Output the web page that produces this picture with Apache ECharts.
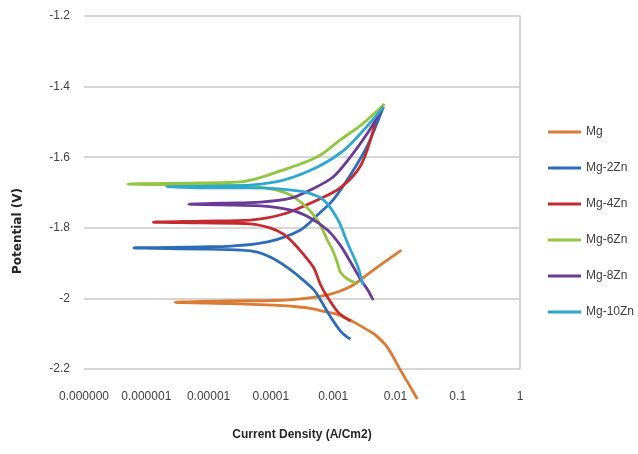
<!DOCTYPE html>
<html>
<head>
<meta charset="utf-8">
<script src="https://cdn.jsdelivr.net/npm/echarts@6/dist/echarts.min.js"></script>
<style>
html,body{margin:0;padding:0;background:#fff;}
#chart{width:638px;height:454px;}
</style>
</head>
<body>
<div id="chart"></div>
<script>
// ---- data: [current density (A/cm2), potential (V)] ----
const seriesNames = ["Mg", "Mg-2Zn", "Mg-4Zn", "Mg-6Zn", "Mg-8Zn", "Mg-10Zn"];
const xTickLabels = ["0.000000", "0.000001", "0.00001", "0.0001", "0.001", "0.01", "0.1", "1"];
const yTickLabels = [-2.2, -2, -1.8, -1.6, -1.4, -1.2];

const mg = [[2.25e-2,-2.285],[1.6e-2,-2.240],[1.2e-2,-2.203],[7.4e-3,-2.138],[4.8e-3,-2.104],[3.6e-3,-2.090],[2.3e-3,-2.070],[1.7e-3,-2.058],[1.1e-3,-2.044],[8.1e-4,-2.039],[3.9e-4,-2.027],[2.1e-4,-2.022],[1.1e-4,-2.019],[2.3e-5,-2.015],[2.9e-6,-2.011],[2.3e-5,-2.007],[1.1e-4,-2.006],[3.9e-4,-1.999],[8.1e-4,-1.990],[1.3e-3,-1.979],[2.1e-3,-1.962],[4.4e-3,-1.920],[1.25e-2,-1.863]];
const mg2Zn = [[1.9e-3,-2.115],[1.6e-3,-2.107],[1.3e-3,-2.092],[9.1e-4,-2.053],[6.3e-4,-2.005],[4.9e-4,-1.976],[3.0e-4,-1.942],[2.1e-4,-1.920],[1.2e-4,-1.891],[6.1e-5,-1.869],[3.3e-5,-1.863],[7.5e-6,-1.860],[6.3e-7,-1.857],[7.5e-6,-1.854],[2.3e-5,-1.852],[8.9e-5,-1.840],[3.0e-4,-1.806],[5.6e-4,-1.764],[1.0e-3,-1.721],[1.9e-3,-1.650],[3.6e-3,-1.565],[6.4e-3,-1.458]];
const mg4Zn = [[1.9e-3,-2.064],[1.6e-3,-2.056],[1.2e-3,-2.039],[8.1e-4,-1.996],[6.3e-4,-1.962],[4.9e-4,-1.914],[3.4e-4,-1.877],[2.3e-4,-1.843],[1.6e-4,-1.818],[9.9e-5,-1.801],[4.7e-5,-1.789],[7.5e-6,-1.786],[1.3e-6,-1.784],[7.5e-6,-1.781],[4.7e-5,-1.778],[1.6e-4,-1.761],[5.6e-4,-1.721],[1.3e-3,-1.687],[2.8e-3,-1.622],[4.8e-3,-1.500]];
const mg6Zn = [[2.3e-3,-1.956],[1.7e-3,-1.945],[1.3e-3,-1.925],[1.2e-3,-1.905],[9.8e-4,-1.863],[8.1e-4,-1.835],[5.6e-4,-1.778],[3.0e-4,-1.727],[1.6e-4,-1.699],[4.7e-5,-1.682],[7.5e-6,-1.679],[5.1e-7,-1.676],[7.5e-6,-1.673],[3.3e-5,-1.670],[1.6e-4,-1.636],[5.6e-4,-1.599],[1.3e-3,-1.551],[2.8e-3,-1.509],[6.7e-3,-1.449]];
const mg8Zn = [[4.4e-3,-2.005],[3.6e-3,-1.976],[2.8e-3,-1.948],[1.9e-3,-1.897],[1.3e-3,-1.849],[8.1e-4,-1.806],[4.3e-4,-1.772],[2.1e-4,-1.750],[6.9e-5,-1.738],[1.6e-5,-1.735],[4.8e-6,-1.733],[1.6e-5,-1.730],[6.9e-5,-1.727],[2.1e-4,-1.716],[4.3e-4,-1.693],[1.0e-3,-1.656],[1.9e-3,-1.599],[3.6e-3,-1.531],[6.4e-3,-1.458]];
const mg10Zn = [[3.0e-3,-1.962],[2.5e-3,-1.911],[1.7e-3,-1.843],[1.2e-3,-1.778],[7.0e-4,-1.721],[3.6e-4,-1.699],[1.4e-4,-1.690],[4.7e-5,-1.687],[1.1e-5,-1.687],[2.1e-6,-1.684],[1.1e-5,-1.682],[4.7e-5,-1.679],[1.6e-4,-1.665],[5.6e-4,-1.628],[1.5e-3,-1.580],[3.1e-3,-1.523],[6.4e-3,-1.458]];

const seriesData = [mg, mg2Zn, mg4Zn, mg6Zn, mg8Zn, mg10Zn];
const colors = ["#DB7B34", "#2D6DB8", "#C42B2F", "#92C540", "#6A3A97", "#2EA8CF"];

const chart = echarts.init(document.getElementById('chart'), null, {renderer: 'canvas'});
const fontFam = "'Liberation Sans', Arial, sans-serif";

chart.setOption({
  animation: false,
  backgroundColor: '#ffffff',
  grid: {left: 84, right: 118, top: 16, bottom: 85, containLabel: false},
  xAxis: {
    type: 'log',
    logBase: 10,
    min: 1e-7,
    max: 1,
    name: 'Current Density (A/Cm2)',
    nameLocation: 'middle',
    nameGap: 60,
    nameTextStyle: {fontFamily: fontFam, fontSize: 12, fontWeight: 'bold', color: '#262626'},
    axisLine: {show: false},
    axisTick: {show: false},
    splitLine: {show: false},
    axisLabel: {
      fontFamily: fontFam, fontSize: 12, color: '#404040', margin: 22,
      showMinLabel: true, showMaxLabel: true, hideOverlap: false,
      formatter: function (v) {
        const k = Math.round(Math.log10(v)) + 7;
        return xTickLabels[k] !== undefined ? xTickLabels[k] : '';
      }
    }
  },
  yAxis: [{
    type: 'value',
    min: -2.2,
    max: -1.2,
    interval: 0.2,
    axisLine: {show: false},
    axisTick: {show: false},
    splitLine: {show: true, lineStyle: {color: '#c9c9c9', width: 1.5}},
    axisLabel: {
      fontFamily: fontFam, fontSize: 12, color: '#404040', margin: 14,
      formatter: function (v) {
        let best = yTickLabels[0];
        yTickLabels.forEach(t => { if (Math.abs(t - v) < Math.abs(best - v)) best = t; });
        return String(best);
      }
    }
  }, {
    type: 'value',
    position: 'right',
    min: -2.2,
    max: -1.2,
    interval: 0.2,
    axisLine: {show: true, lineStyle: {color: '#c9c9c9', width: 1.5}},
    axisTick: {show: false},
    axisLabel: {show: false},
    splitLine: {show: false}
  }],
  legend: {
    orient: 'vertical',
    left: 543,
    top: 120,
    icon: 'rect',
    itemWidth: 33,
    itemHeight: 3,
    itemGap: 22,
    textStyle: {fontFamily: fontFam, fontSize: 12, color: '#404040', lineHeight: 14},
    data: seriesNames
  },
  graphic: [{
    type: 'text',
    x: 18,
    y: 231,
    rotation: Math.PI / 2,
    style: {
      text: 'Potential (V)',
      font: "bold 12px 'DejaVu Sans', sans-serif",
      fill: '#262626',
      align: 'center',
      verticalAlign: 'middle'
    }
  }],
  series: seriesNames.map((name, i) => ({
    name: name,
    type: 'line',
    data: seriesData[i],
    yAxisIndex: 0,
    smooth: 0.3,
    symbol: 'none',
    clip: false,
    lineStyle: {color: colors[i], width: 2.8},
    itemStyle: {color: colors[i]}
  }))
});
</script>
</body>
</html>
